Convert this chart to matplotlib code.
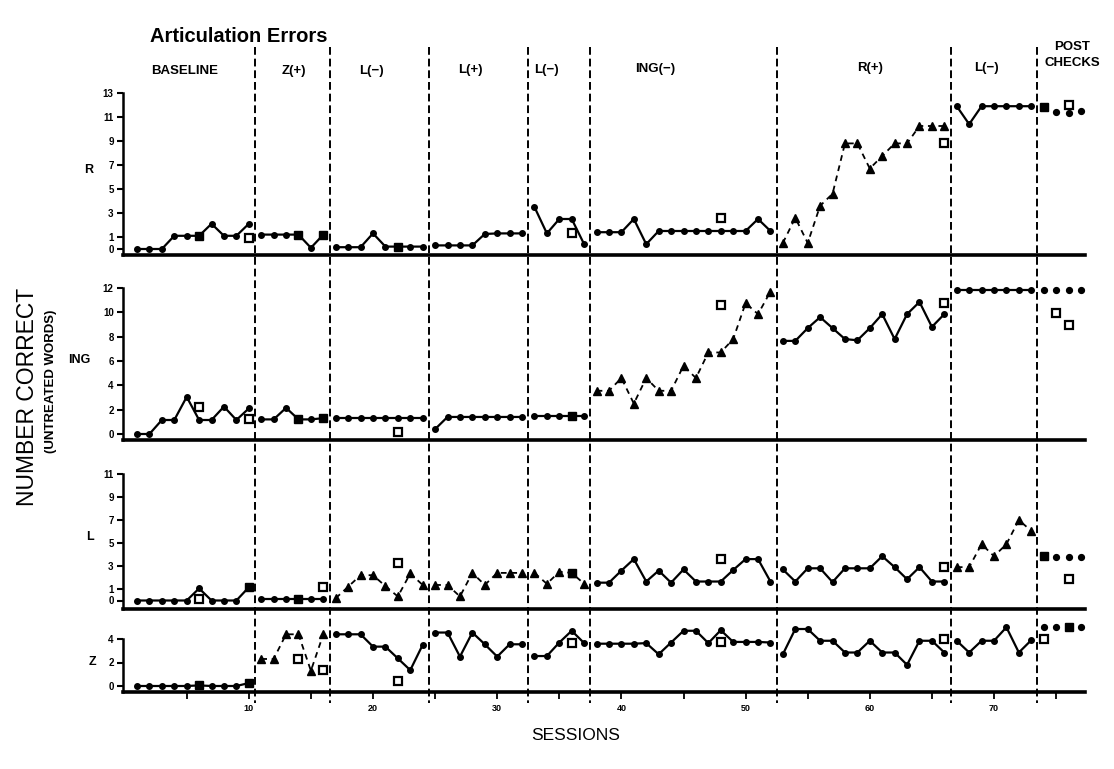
import matplotlib
matplotlib.use("Agg")
import matplotlib.pyplot as plt
import numpy as np

W, H, DPI = 1114, 769, 100

# ---------------- data ----------------
phase_names = ["BASELINE", "Z(+)", "L(\u2212)", "L(+)", "L(\u2212)", "ING(\u2212)",
               "R(+)", "L(\u2212)", "POST\nCHECKS"]
phase_lengths = [10, 6, 8, 8, 5, 15, 14, 7, 4]

r_values = [0, 0, 0, 1.1, 1.1, 1.1, 2.1, 1.1, 1.1, 2.1,
            1.2, 1.2, 1.2, 1.2, 0.1, 1.2,
            0.15, 0.15, 0.15, 1.3, 0.2, 0.2, 0.2, 0.2,
            0.3, 0.3, 0.3, 0.3, 1.25, 1.3, 1.3, 1.3,
            3.5, 1.3, 2.5, 2.5, 0.4,
            1.4, 1.4, 1.4, 2.5, 0.4, 1.5, 1.5, 1.5, 1.5, 1.5, 1.5, 1.5, 1.5, 2.5, 1.5,
            0.5, 2.6, 0.5, 3.6, 4.6, 8.8, 8.8, 6.7, 7.75, 8.8, 8.8, 10.25, 10.25, 10.25,
            11.9, 10.4, 11.9, 11.9, 11.9, 11.9, 11.9,
            11.85, 11.4, 11.35, 11.5]

ing_values = [0, 0, 1.15, 1.15, 3.05, 1.15, 1.15, 2.25, 1.15, 2.1,
              1.2, 1.2, 2.15, 1.2, 1.2, 1.3,
              1.3, 1.3, 1.3, 1.3, 1.3, 1.3, 1.3, 1.3,
              0.4, 1.4, 1.4, 1.4, 1.4, 1.4, 1.4, 1.4,
              1.45, 1.45, 1.45, 1.45, 1.45,
              3.55, 3.55, 4.6, 2.5, 4.6, 3.55, 3.55, 5.6, 4.6, 6.7, 6.7, 7.8, 10.75, 9.85, 11.7,
              7.65, 7.65, 8.7, 9.6, 8.7, 7.8, 7.7, 8.7, 9.85, 7.8, 9.85, 10.85, 8.8, 9.85,
              11.85, 11.85, 11.85, 11.85, 11.85, 11.85, 11.85,
              11.85, 11.85, 11.85, 11.85]

l_values = [0, 0, 0, 0, 0, 1.05, 0, 0, 0, 1.15,
            0.1, 0.1, 0.1, 0.1, 0.1, 0.1,
            0.2, 1.2, 2.2, 2.2, 1.25, 0.35, 2.35, 1.35,
            1.35, 1.35, 0.35, 2.4, 1.35, 2.4, 2.4, 2.4,
            2.4, 1.45, 2.5, 2.4, 1.45,
            1.55, 1.55, 2.6, 3.6, 1.65, 2.6, 1.55, 2.7, 1.65, 1.65, 1.65, 2.65, 3.6, 3.6, 1.65,
            2.7, 1.65, 2.8, 2.8, 1.6, 2.8, 2.8, 2.8, 3.85, 2.9, 1.85, 2.9, 1.65, 1.65,
            2.9, 2.9, 4.9, 3.85, 4.9, 7.0, 6.05,
            3.85, 3.8, 3.8, 3.8]

z_values = [0, 0, 0, 0, 0, 0.05, 0, 0, 0, 0.25,
            2.3, 2.3, 4.4, 4.4, 1.3, 4.4,
            4.4, 4.4, 4.4, 3.35, 3.35, 2.35, 1.35, 3.5,
            4.55, 4.55, 2.5, 4.55, 3.55, 2.5, 3.55, 3.55,
            2.55, 2.55, 3.7, 4.7, 3.65,
            3.6, 3.6, 3.6, 3.6, 3.65, 2.7, 3.7, 4.7, 4.7, 3.65, 4.75, 3.75, 3.75, 3.75, 3.7,
            2.7, 4.85, 4.85, 3.85, 3.85, 2.85, 2.85, 3.85, 2.85, 2.85, 1.8, 3.85, 3.85, 2.85,
            3.85, 2.85, 3.85, 3.85, 5.0, 2.85, 3.9,
            5.0, 5.0, 5.0, 5.0]

# phases drawn with triangles / dashed lines (index into phase list)
r_triangle_phases = [6]
ing_triangle_phases = [5]
l_triangle_phases = [2, 3, 4, 7]
z_triangle_phases = [1]

# sessions marked with filled squares
r_filled_sessions = [6, 14, 16, 22, 74]
ing_filled_sessions = [14, 16, 36]
l_filled_sessions = [10, 14, 36, 74]
z_filled_sessions = [6, 10, 76]

# open squares (probes)
r_probe_sessions = [10, 36, 48, 66, 76]
r_probe_values = [0.9, 1.3, 2.55, 8.85, 12.0]
ing_probe_sessions = [6, 10, 22, 48, 66, 75, 76]
ing_probe_values = [2.25, 1.2, 0.2, 10.6, 10.8, 9.95, 8.95]
l_probe_sessions = [6, 16, 22, 48, 66, 76]
l_probe_values = [0.1, 1.2, 3.3, 3.65, 2.9, 1.85]
z_probe_sessions = [14, 16, 22, 36, 48, 66, 74]
z_probe_values = [2.3, 1.35, 0.45, 3.65, 3.75, 4.0, 4.0]

r_ticks = [0, 1, 3, 5, 7, 9, 11, 13]
ing_ticks = [0, 2, 4, 6, 8, 10, 12]
l_ticks = [0, 1, 3, 5, 7, 9, 11]
z_ticks = [0, 2, 4]

x_ticks = [5, 10, 15, 20, 25, 30, 35, 40, 45, 50, 55, 60, 65, 70, 75]
x_tick_labels = ["", "10", "", "20", "", "30", "", "40", "", "50", "", "60", "", "70", ""]

# ---------------- layout ----------------
FONT = ["Liberation Sans", "DejaVu Sans"]
NARROW = ["Liberation Sans Narrow", "Liberation Sans", "DejaVu Sans"]
plt.rcParams["font.family"] = FONT

fig = plt.figure(figsize=(W / DPI, H / DPI), dpi=DPI)

XPX0, XPPU = 124.6, 12.42          # pixel of session 0, pixels per session
xlim = (-0.1, 77.3)
left_px = XPX0 + xlim[0] * XPPU
right_px = XPX0 + xlim[1] * XPPU
fl = left_px / W
fw = (right_px - left_px) / W

sessions = np.arange(1, sum(phase_lengths) + 1)
bounds = np.cumsum([0] + phase_lengths)

panels = [
    dict(name="R", vals=r_values, tri=r_triangle_phases, fsq=r_filled_sessions,
         ps=r_probe_sessions, pv=r_probe_values, ticks=r_ticks,
         y0=249, ppu=12.0, ymin=-0.5, ymax=13.3, lab=(89, 170)),
    dict(name="ING", vals=ing_values, tri=ing_triangle_phases, fsq=ing_filled_sessions,
         ps=ing_probe_sessions, pv=ing_probe_values, ticks=ing_ticks,
         y0=434, ppu=12.17, ymin=-0.5, ymax=12.3, lab=(79, 360)),
    dict(name="L", vals=l_values, tri=l_triangle_phases, fsq=l_filled_sessions,
         ps=l_probe_sessions, pv=l_probe_values, ticks=l_ticks,
         y0=600.5, ppu=11.5, ymin=-0.75, ymax=11.3, lab=(90, 537)),
    dict(name="Z", vals=z_values, tri=z_triangle_phases, fsq=z_filled_sessions,
         ps=z_probe_sessions, pv=z_probe_values, ticks=z_ticks,
         y0=686, ppu=11.75, ymin=-0.55, ymax=5.4, lab=(92, 662)),
]

# overlay axes in pixel-y coordinates for the phase separators and labels
ov = fig.add_axes([fl, 0, fw, 1], zorder=0)
ov.set_xlim(*xlim)
ov.set_ylim(H, 0)
ov.axis("off")
ov.patch.set_alpha(0)
ov.vlines(bounds[1:-1] + 0.5, 47, 703, colors="black", lw=1.4,
          linestyles=(0, (4, 2)))
label_x = [4.8, 13.6, 19.9, 27.8, 34.0, 42.7, 60.0, 69.4, 76.3]
label_y = [71, 71, 71, 70, 70, 69, 68, 68, 55]
for name, lx, ly in zip(phase_names, label_x, label_y):
    ov.text(lx, ly, name, ha="center", va="center", fontsize=9.5,
            fontweight="bold", linespacing=1.35, family=FONT)

for i, p in enumerate(panels):
    top_px = p["y0"] - p["ymax"] * p["ppu"]
    bot_px = p["y0"] - p["ymin"] * p["ppu"]
    ax = fig.add_axes([fl, 1 - bot_px / H, fw, (bot_px - top_px) / H], zorder=2)
    ax.patch.set_alpha(0)
    ax.set_xlim(*xlim)
    ax.set_ylim(p["ymin"], p["ymax"])
    vals = np.array(p["vals"], dtype=float)

    for k in range(len(phase_lengths)):
        s = sessions[bounds[k]:bounds[k + 1]]
        v = vals[bounds[k]:bounds[k + 1]]
        if k == len(phase_lengths) - 1:
            ax.plot(s, v, ls="none", marker="o", ms=4.2, color="black",
                    clip_on=False, zorder=3)
        elif k in p["tri"]:
            ax.plot(s, v, ls=(0, (3.2, 2.6)), lw=1.3, marker="^", ms=5.5,
                    color="black", clip_on=False, zorder=3)
        else:
            ax.plot(s, v, ls="-", lw=1.6, marker="o", ms=4.0,
                    color="black", clip_on=False, zorder=3)

    fs = np.array(p["fsq"])
    ax.plot(fs, vals[fs - 1], ls="none", marker="s", ms=6.2, color="black",
            clip_on=False, zorder=4)
    ax.plot(p["ps"], p["pv"], ls="none", marker="s", ms=5.2, mfc="white",
            mec="black", mew=1.6, clip_on=False, zorder=5)

    for side in ("top", "right"):
        ax.spines[side].set_visible(False)
    ax.spines["left"].set_linewidth(1.8)
    ax.spines["left"].set_bounds(p["ymin"], p["ticks"][-1])
    ax.spines["bottom"].set_linewidth(2.6)
    ax.set_yticks(p["ticks"])
    ax.set_yticklabels([str(t) for t in p["ticks"]], family=NARROW,
                       fontweight="bold", fontsize=7)
    ax.tick_params(axis="y", direction="out", length=4, width=1.5, pad=3)

    if i == len(panels) - 1:
        ax.set_xticks(x_ticks)
        ax.set_xticklabels(x_tick_labels, family=NARROW, fontweight="bold",
                           fontsize=6.5)
        ax.tick_params(axis="x", direction="out", length=5, width=1.3, pad=3)
    else:
        ax.set_xticks([])

    fig.text(p["lab"][0] / W, 1 - p["lab"][1] / H, p["name"], ha="center",
             va="center", fontsize=9, fontweight="bold", family=FONT)

fig.text(150 / W, 1 - 37 / H, "Articulation Errors", ha="left", va="center",
         fontsize=14.5, fontweight="bold", family=FONT)
fig.text(28 / W, 1 - 397 / H, "NUMBER CORRECT", ha="center", va="center",
         rotation=90, fontsize=16.5, family=FONT)
fig.text(51 / W, 1 - 381 / H, "(UNTREATED WORDS)", ha="center", va="center",
         rotation=90, fontsize=9.5, fontweight="bold", family=NARROW)
fig.text(576 / W, 1 - 735 / H, "SESSIONS", ha="center", va="center",
         fontsize=12.5, family=FONT)

fig.savefig("out.png", dpi=DPI)
